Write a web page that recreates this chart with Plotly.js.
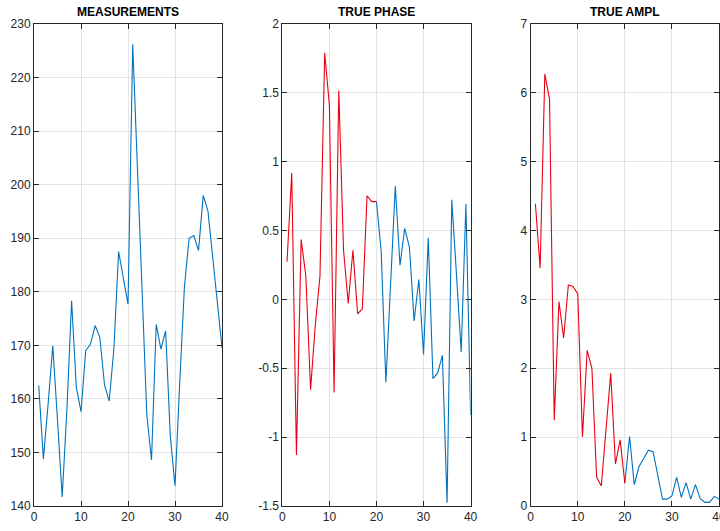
<!DOCTYPE html>
<html>
<head>
<meta charset="utf-8">
<script src="https://cdn.plot.ly/plotly-3.0.1.min.js"></script>
<style>html,body{margin:0;padding:0;background:#fff;}#chart{width:720px;height:531px;}</style>
</head>
<body>
<div id="chart"></div>
<script>
// ---- data ----
var samples = [1,2,3,4,5,6,7,8,9,10,11,12,13,14,15,16,17,18,19,20,
               21,22,23,24,25,26,27,28,29,30,31,32,33,34,35,36,37,38,39,40];

var measurements = [162.5,148.8,159,169.9,156,141.7,158,178.3,162.2,157.6,
                    169,170.2,173.7,171.5,162.6,159.6,169.4,187.5,182.6,177.7,
                    226.2,203,180,157,148.6,173.9,169.3,172.7,153,143.8,
                    163,181,190,190.5,187.7,198,195.1,186.7,178.3,169.5];

var truePhase = [0.273,0.918,-1.13,0.435,0.17,-0.655,-0.19,0.17,1.79,1.41,
                 -0.676,1.517,0.36,-0.03,0.357,-0.104,-0.068,0.752,0.71,0.71,
                 0.35,-0.603,0.15,0.824,0.248,0.516,0.38,-0.157,0.145,-0.4,
                 0.447,-0.575,-0.534,-0.406,-1.476,0.723,0.18,-0.382,0.692,-0.84];

var trueAmpl = [4.39,3.455,6.275,5.91,1.246,2.97,2.44,3.21,3.19,3.08,
                1.005,2.26,2.0,0.42,0.29,1.1,1.93,0.61,0.96,0.33,
                1.01,0.31,0.57,0.69,0.81,0.79,0.425,0.1,0.1,0.145,
                0.415,0.125,0.34,0.1,0.31,0.11,0.053,0.053,0.14,0.1];

// samples 1..20 are highlighted in red, 20..40 in blue
var redCount = 20;

var titles = ['MEASUREMENTS', 'TRUE PHASE', 'TRUE AMPL'];

var xTicks = [0,10,20,30,40];
var xTickText = ['0','10','20','30','40'];
var measTicks = [140,150,160,170,180,190,200,210,220,230];
var measTickText = ['140','150','160','170','180','190','200','210','220','230'];
var phaseTicks = [-1.5,-1,-0.5,0,0.5,1,1.5,2];
var phaseTickText = ['-1.5','-1','-0.5','0','0.5','1','1.5','2'];
var amplTicks = [0,1,2,3,4,5,6,7];
var amplTickText = ['0','1','2','3','4','5','6','7'];

// ---- styling ----
var BLUE = '#0072BD';
var RED = '#ea0010';
var AX = '#262626';
var GRID = '#e3e3e3';
var FONT = 'Liberation Sans, Arial, sans-serif';

function xaxisDef(domain, anchor) {
  return {
    domain: domain, anchor: anchor, range: [0, 40],
    tickvals: xTicks, ticktext: xTickText,
    ticks: 'inside', ticklen: 5, tickcolor: AX, tickwidth: 1,
    showline: true, linecolor: AX, linewidth: 1, mirror: 'ticks',
    showgrid: true, gridcolor: GRID, gridwidth: 1, zeroline: false,
    tickfont: {family: FONT, size: 12, color: AX},
    ticklabeloverflow: 'allow',
    fixedrange: true
  };
}
function yaxisDef(range, vals, text, anchor) {
  return {
    range: range, anchor: anchor, domain: [0, 1],
    tickvals: vals, ticktext: text,
    ticks: 'inside', ticklen: 5, tickcolor: AX, tickwidth: 1,
    showline: true, linecolor: AX, linewidth: 1, mirror: 'ticks',
    showgrid: true, gridcolor: GRID, gridwidth: 1, zeroline: false,
    tickfont: {family: FONT, size: 12, color: AX},
    fixedrange: true
  };
}

var traces = [
  {x: samples, y: measurements, xaxis: 'x', yaxis: 'y', mode: 'lines',
   line: {color: BLUE, width: 1.1}},
  {x: samples.slice(redCount - 1), y: truePhase.slice(redCount - 1), xaxis: 'x2', yaxis: 'y2',
   mode: 'lines', line: {color: BLUE, width: 1.1}},
  {x: samples.slice(0, redCount), y: truePhase.slice(0, redCount), xaxis: 'x2', yaxis: 'y2',
   mode: 'lines', line: {color: RED, width: 1.1}},
  {x: samples.slice(redCount - 1), y: trueAmpl.slice(redCount - 1), xaxis: 'x3', yaxis: 'y3',
   mode: 'lines', line: {color: BLUE, width: 1.1}},
  {x: samples.slice(0, redCount), y: trueAmpl.slice(0, redCount), xaxis: 'x3', yaxis: 'y3',
   mode: 'lines', line: {color: RED, width: 1.1}}
];

var d1 = [0, 0.2745], d2 = [0.3625, 0.6374], d3 = [0.7251, 1];

var annotations = [d1, d2, d3].map(function (d, i) {
  return {
    text: '<b>' + titles[i] + '</b>', xref: 'paper', yref: 'paper',
    x: (d[0] + d[1]) / 2, y: 1, xanchor: 'center', yanchor: 'bottom', yshift: 3,
    showarrow: false, font: {family: FONT, size: 12, color: '#000'}
  };
});

var layout = {
  width: 720, height: 531,
  margin: {l: 34, r: 1, t: 24, b: 25},
  paper_bgcolor: '#fff', plot_bgcolor: '#fff',
  showlegend: false,
  xaxis: xaxisDef(d1, 'y'),
  yaxis: yaxisDef([140, 230], measTicks, measTickText, 'x'),
  xaxis2: xaxisDef(d2, 'y2'),
  yaxis2: yaxisDef([-1.5, 2], phaseTicks, phaseTickText, 'x2'),
  xaxis3: xaxisDef(d3, 'y3'),
  yaxis3: yaxisDef([0, 7], amplTicks, amplTickText, 'x3'),
  annotations: annotations
};

Plotly.newPlot('chart', traces, layout, {displayModeBar: false, staticPlot: true});
</script>
</body>
</html>
